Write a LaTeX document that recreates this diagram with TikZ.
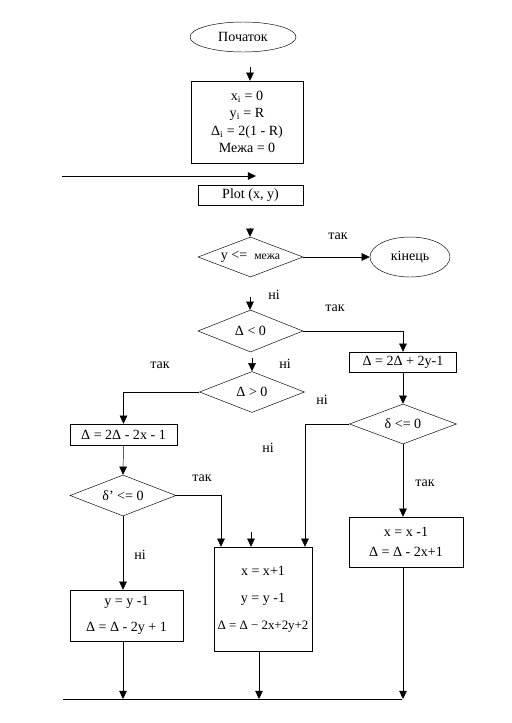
\documentclass[tikz,border=0pt]{standalone}
\usepackage{fontspec}
\setmainfont{Liberation Serif}
\usetikzlibrary{shapes.geometric,arrows.meta}

\begin{document}
\begin{tikzpicture}[x=0.03cm,y=-0.03cm,
  blk/.style={draw,rectangle,inner sep=1pt,align=center,font=\fontsize{12}{15}\selectfont},
  cond/.style={draw,diamond,inner sep=0pt,aspect=2.6,font=\fontsize{12}{14}\selectfont},
  term/.style={draw,ellipse,inner sep=0pt,font=\fontsize{12}{14}\selectfont},
  lbl/.style={font=\fontsize{12}{14}\selectfont},
  arr/.style={-{Triangle[width=6.5pt,length=7pt]}}]
\useasboundingbox (0,0) rectangle (512,723);

% blocks
\node[term,minimum width=3.18cm,minimum height=0.9cm] (start) at (243,37) {Початок};
\node[blk,minimum width=3.36cm,minimum height=2.46cm] (init) at (247,122)
  {x\textsubscript{i} = 0\\ y\textsubscript{i} = R\\ Δ\textsubscript{i} = 2(1 - R)\\ Межа = 0};
\node[blk,minimum width=3.15cm,minimum height=0.6cm] (plot) at (250.5,195) {Plot (x, y)};
\node[cond,minimum width=3.15cm,minimum height=1.2cm] (cond1) at (250.5,257)
  {y <= \ {\fontsize{10}{12}\selectfont межа}};
\node[term,minimum width=2.4cm,minimum height=1.2cm] (end) at (410,257) {кінець};
\node[cond,minimum width=3.15cm,minimum height=1.26cm] (cond2) at (250.5,331) {Δ < 0};
\node[blk,minimum width=3.21cm,minimum height=0.6cm] (d1) at (403,362) {Δ = 2Δ + 2y-1};
\node[cond,minimum width=3.21cm,minimum height=1.2cm] (cond4) at (403,424) {δ <= 0};
\node[blk,minimum width=3.42cm,minimum height=1.5cm] (xdec) at (406,542) {x = x -1\\[2pt] Δ = Δ - 2x+1};
\node[cond,minimum width=3.15cm,minimum height=1.23cm] (cond3) at (252,392) {Δ > 0};
\node[blk,minimum width=3.21cm,minimum height=0.63cm] (d2) at (123.5,434.5) {Δ = 2Δ - 2x - 1};
\node[cond,minimum width=3.18cm,minimum height=1.23cm] (cond5) at (123,495.5) {δ' <= 0};
\node[blk,minimum width=2.94cm,minimum height=3.12cm] (xinc) at (263,599)
  {x = x+1\\[8pt] y = y -1\\[8pt] {\fontsize{11}{13}\selectfont Δ = Δ − 2x+2y+2}};
\node[blk,minimum width=3.39cm,minimum height=1.53cm] (yd) at (126.5,615.5) {y = y -1\\[7pt] Δ = Δ - 2y + 1};

% labels
\foreach \t/\x/\y [count=\n] in {так/338/236,ні/274/295,так/335/308,ні/285/364,так/160/365,
        ні/322/400,ні/268/448,так/202/478,так/425/483,ні/140/555}
  \node[lbl] (l\n) at (\x,\y) {\t};

% stubs and loop
\coordinate (s0) at (250,67);
\coordinate (s1) at (250,228);
\coordinate (s2) at (250,297);
\coordinate (s3) at (252,358);
\coordinate (s4) at (251,532);
\draw[arr] (s0) -- (s0 |- init.north);
\draw[arr] (s1) -- (s1 |- cond1.north);
\draw[arr] (s2) -- (s2 |- cond2.north);
\draw[arr] (s3) -- (s3 |- cond3.north);
\draw[arr] (s4) -- (s4 |- xinc.north);
\coordinate (lpL) at (62,176);
\coordinate (lpR) at (256,176);
\draw[arr] (lpL) -- (lpR);

% connectors
\draw[arr] (cond1.east) -- (end.west);
\draw[arr] (cond2.east) -| (d1.north);
\draw[arr] (d1.south) -- (cond4.north);
\draw[arr] (cond4.west) -| ([xshift=1.26cm]xinc.north);
\draw[arr] (cond4.south) -- (cond4.south |- xdec.north);
\draw[arr] (cond3.west) -| (d2.north);
\draw[arr] (d2.south) -- (cond5.north);
\draw[arr] (cond5.east) -| ([xshift=-1.26cm]xinc.north);
\draw[arr] (cond5.south) -- (cond5.south |- yd.north);

% bottom
\coordinate (botL) at (63,699);
\coordinate (botR) at (402,699);
\draw (botL) -- (botR);
\draw[arr] (cond5.south |- yd.south) -- (cond5.south |- botL);
\draw[arr] ([xshift=-0.12cm]xinc.south) -- ([xshift=-0.12cm]xinc.south |- botL);
\draw[arr] (cond4.south |- xdec.south) -- (cond4.south |- botL);
\end{tikzpicture}
\end{document}
